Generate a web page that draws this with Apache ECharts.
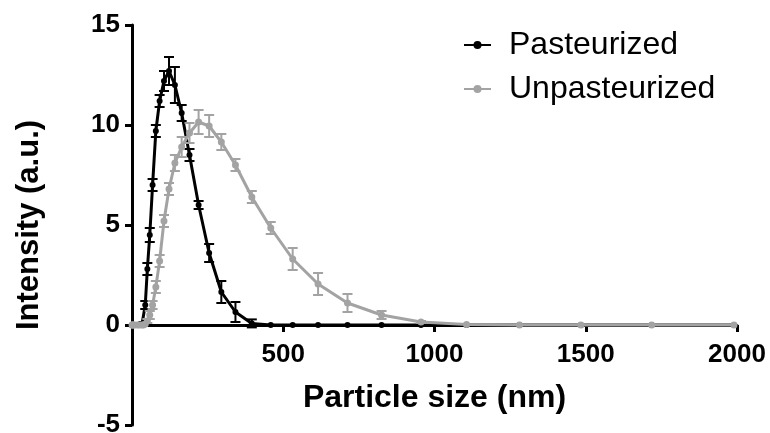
<!DOCTYPE html>
<html>
<head>
<meta charset="utf-8">
<script src="https://cdn.jsdelivr.net/npm/echarts@6/dist/echarts.min.js"></script>
<style>html,body{margin:0;padding:0;background:#fff}#c{width:770px;height:433px}</style>
</head>
<body>
<div id="c"></div>
<script>
// Particle size bins (nm)
var sizes = [0.4, 1.117, 3.122, 8.721, 18.17, 24.36, 32.67, 37.84,
  43.82, 50.75, 58.77, 68.06, 78.82, 91.28, 105.7, 122.4, 141.8, 164.2,
  190.1, 220.2, 255.0, 295.3, 342.0, 396.1, 458.7, 531.2, 615.1, 712.4,
  825.0, 955.4, 1106, 1281, 1484, 1718, 1990];
var pasteurized = [0, 0, 0, 0, 0, 0, 0, 0.1,
  1.0, 2.8, 4.5, 7.0, 9.7, 11.2, 12.2, 12.7, 12.0, 10.6,
  8.5, 6.0, 3.6, 1.65, 0.65, 0.08, 0, 0, 0, 0,
  0, 0, 0, 0, 0, 0, 0];
var pasteurizedErr = [0, 0, 0, 0, 0, 0, 0, 0.05,
  0.2, 0.3, 0.35, 0.3, 0.3, 0.3, 0.5, 0.7, 0.9, 0.4,
  0.3, 0.2, 0.45, 0.55, 0.5, 0.2, 0, 0, 0, 0,
  0, 0, 0, 0, 0, 0, 0];
var unpasteurized = [0, 0, 0, 0, 0, 0, 0, 0,
  0.05, 0.2, 0.5, 1.0, 1.9, 3.2, 5.2, 6.8, 8.1, 8.9,
  9.6, 10.15, 9.95, 9.15, 8.0, 6.4, 4.85, 3.3, 2.05, 1.1,
  0.5, 0.15, 0.02, 0, 0, 0, 0];
var unpasteurizedErr = [0, 0, 0, 0, 0, 0, 0, 0,
  0, 0.1, 0.2, 0.2, 0.3, 0.3, 0.3, 0.3, 0.4, 0.5,
  0.5, 0.6, 0.55, 0.4, 0.3, 0.3, 0.3, 0.55, 0.55, 0.45,
  0.2, 0.05, 0, 0, 0, 0, 0];
var xTicks = [0, 500, 1000, 1500, 2000];
var yTicks = [-5, 0, 5, 10, 15];

var BLACK = '#000000', GRAY = '#a3a3a3';
var FONT = 'Liberation Sans, Arial, sans-serif';

// grid geometry
var GRID_TOP = 25, GRID_BOTTOM = 8, H = 433;
var plotH = H - GRID_TOP - GRID_BOTTOM;
var yMin = yTicks[0], yMax = yTicks[yTicks.length - 1];
// place the x axis where y = 0 (axis offset from grid bottom)
var zeroOffset = -plotH * (0 - yMin) / (yMax - yMin);

function pairs(vals) { return sizes.map(function (s, i) { return [s, vals[i]]; }); }
function errSeries(vals, errs, color, z) {
  return {
    type: 'custom', z: z, silent: true, clip: false,
    data: sizes.map(function (s, i) { return [s, vals[i], errs[i]]; }),
    renderItem: function (params, api) {
      var x = api.value(0), y = api.value(1), e = api.value(2);
      if (!e) return null;
      var t = api.coord([x, y + e]), b = api.coord([x, y - e]);
      var w = 5, st = { stroke: color, lineWidth: 2 };
      return { type: 'group', children: [
        { type: 'line', shape: { x1: t[0], y1: t[1], x2: b[0], y2: b[1] }, style: st },
        { type: 'line', shape: { x1: t[0] - w, y1: t[1], x2: t[0] + w, y2: t[1] }, style: st },
        { type: 'line', shape: { x1: b[0] - w, y1: b[1], x2: b[0] + w, y2: b[1] }, style: st }
      ] };
    }
  };
}

var chart = echarts.init(document.getElementById('c'), null, { renderer: 'canvas' });
chart.setOption({
  animation: false,
  backgroundColor: '#fff',
  textStyle: { fontFamily: FONT },
  grid: { left: 132, right: 33, top: GRID_TOP, bottom: GRID_BOTTOM, containLabel: false, outerBoundsMode: 'none' },
  legend: {
    data: ['Pasteurized', 'Unpasteurized'],
    orient: 'vertical', left: 458, top: 24,
    itemWidth: 27, itemHeight: 10, itemGap: 12,
    textStyle: { fontSize: 32, color: '#000', fontFamily: FONT, padding: [0, 0, 0, 13] }
  },
  xAxis: {
    type: 'value', min: xTicks[0], max: xTicks[xTicks.length - 1], interval: 500,
    position: 'bottom', offset: zeroOffset,
    name: 'Particle size (nm)', nameLocation: 'middle', nameGap: 57,
    nameTextStyle: { fontSize: 32, fontWeight: 'bold', color: '#000', fontFamily: FONT },
    axisLine: { onZero: false, lineStyle: { color: '#000', width: 3 } },
    axisTick: { show: true, length: 7, lineStyle: { color: '#000', width: 3 } },
    axisLabel: { fontSize: 26, fontWeight: 'bold', color: '#000', margin: 17, fontFamily: FONT,
      showMinLabel: false,
      formatter: function (v) { return v === 0 ? '' : String(v); } },
    splitLine: { show: false }
  },
  yAxis: {
    type: 'value', min: yMin, max: yMax, interval: 5,
    name: 'Intensity (a.u.)', nameLocation: 'middle', nameGap: 87,
    nameTextStyle: { fontSize: 31, fontWeight: 'bold', color: '#000', fontFamily: FONT },
    axisLine: { show: true, onZero: false, lineStyle: { color: '#000', width: 3 } },
    axisTick: { show: true, length: 7, lineStyle: { color: '#000', width: 3 } },
    axisLabel: { fontSize: 26, fontWeight: 'bold', color: '#000', margin: 12, fontFamily: FONT,
      formatter: function (v) { return String(v); } },
    splitLine: { show: false }
  },
  series: [
    { name: 'Pasteurized', type: 'line', z: 2, data: pairs(pasteurized), clip: false,
      symbol: 'circle', symbolSize: 6, showSymbol: true,
      lineStyle: { color: BLACK, width: 3 }, itemStyle: { color: BLACK } },
    errSeries(pasteurized, pasteurizedErr, BLACK, 3),
    { name: 'Unpasteurized', type: 'line', z: 4, data: pairs(unpasteurized), clip: false,
      symbol: 'circle', symbolSize: 7, showSymbol: true,
      lineStyle: { color: GRAY, width: 3 }, itemStyle: { color: GRAY } },
    errSeries(unpasteurized, unpasteurizedErr, GRAY, 5)
  ]
});
</script>
</body>
</html>
